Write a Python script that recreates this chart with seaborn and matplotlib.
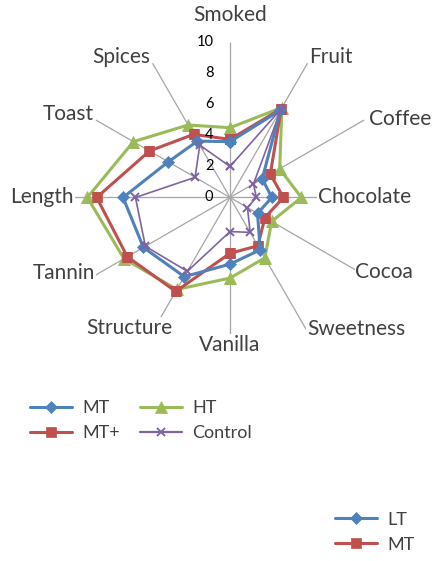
import numpy as np
import pandas as pd
import matplotlib
matplotlib.use("Agg")
import matplotlib.pyplot as plt
import seaborn as sns
from matplotlib.lines import Line2D

categories = ['Smoked', 'Fruit', 'Coffee', 'Chocolate', 'Cocoa', 'Sweetness',
              'Vanilla', 'Structure', 'Tannin', 'Length', 'Toast', 'Spices']
mt = [3.6, 6.5, 2.4, 2.7, 2.05, 3.9, 4.3, 5.9, 6.45, 6.9, 4.6, 4.2]
mt_plus = [3.75, 6.6, 3.0, 3.45, 2.6, 3.6, 3.6, 7.0, 7.65, 8.6, 6.0, 4.7]
ht = [4.5, 6.7, 3.7, 4.6, 3.1, 4.5, 5.2, 6.85, 7.9, 9.2, 7.2, 5.4]
control = [2.0, 6.6, 1.75, 1.7, 1.3, 2.6, 2.2, 5.5, 6.3, 6.1, 2.6, 3.9]
r_ticks = [0, 2, 4, 6, 8, 10]

sns.set_style("white")
plt.rcParams['font.family'] = ['Lato', 'DejaVu Sans']

# series styles: (label, values, colour, marker, markersize, linewidth)
series = [
    ('HT', ht, '#9BBB59', '^', 8, 2.2),
    ('MT+', mt_plus, '#C0504D', 's', 6.5, 2.2),
    ('MT', mt, '#4F81BD', 'D', 6, 2.2),
    ('Control', control, '#8064A2', 'x', 6, 1.2),
]

n = len(categories)
theta = np.arange(n) * 2 * np.pi / n

fig = plt.figure(figsize=(4.34, 5.61), dpi=100)
ax = fig.add_axes([0.1728, 0.3717, 0.7143, 0.5526], projection='polar')
ax.set_theta_zero_location('N')
ax.set_theta_direction(-1)

for name, vals, col, mk, ms, lw in series:
    df = pd.DataFrame({'theta': np.append(theta, 2 * np.pi),
                       'value': vals + [vals[0]]})
    sns.lineplot(data=df, x='theta', y='value', ax=ax, sort=False,
                 estimator=None, color=col, marker=mk, markersize=ms,
                 markeredgecolor=col, markeredgewidth=1.4 if mk == 'x' else 0.5,
                 linewidth=lw, zorder=3)

ax.set_ylim(0, 10)
ax.set_xlabel('')
ax.set_ylabel('')
ax.set_xticks(theta)
ax.set_xticklabels([])
ax.set_yticks(r_ticks)
ax.set_yticklabels([])
ax.yaxis.grid(False)
ax.xaxis.grid(True, color='#A6A6A6', linewidth=0.9)
ax.spines['polar'].set_visible(False)
ax.set_facecolor('none')

# radial value labels, left of the top spoke
for t in r_ticks:
    ax.annotate(str(t), xy=(0, t), xytext=(-12, 0), textcoords='offset points',
                ha='right', va='center', fontsize=10.5, color='black', zorder=5,
                annotation_clip=False)

# category labels (angle clockwise from top, radius, in data units)
label_pos = {
    'Smoked': (0, 11.8), 'Fruit': (35.7, 11.16), 'Coffee': (65.2, 12.08),
    'Chocolate': (90, 8.65), 'Cocoa': (115.8, 11.04), 'Sweetness': (136.2, 11.75),
    'Vanilla': (180, 9.52), 'Structure': (217.7, 10.65), 'Tannin': (245.5, 11.74),
    'Length': (270, 12.16), 'Toast': (297.3, 11.73), 'Spices': (322.2, 11.47),
}
for cat in categories:
    a, r = label_pos[cat]
    ax.text(np.deg2rad(a), r, cat, ha='center', va='center', fontsize=15,
            color='#404040', zorder=4, clip_on=False,
            bbox=dict(facecolor='white', edgecolor='none', pad=0.5))

def handle(col, mk, ms, lw, mew):
    return Line2D([0], [0], color=col, marker=mk, markersize=ms, linewidth=lw,
                  markeredgecolor=col, markeredgewidth=mew)

h_mt = handle('#4F81BD', 'D', 6, 2.2, 0.5)
h_mtp = handle('#C0504D', 's', 6.5, 2.2, 0.5)
h_ht = handle('#9BBB59', '^', 8, 2.2, 0.5)
h_ctl = handle('#8064A2', 'x', 6, 1.6, 1.4)

leg_kw = dict(frameon=False, fontsize=13, handlelength=2.33, handletextpad=0.55,
              labelspacing=0.5, borderpad=0, borderaxespad=0, labelcolor='#404040')
leg1 = fig.legend([h_mt, h_mtp, h_ht, h_ctl], ['MT', 'MT+', 'HT', 'Control'],
                  loc='upper left', bbox_to_anchor=(0.069, 0.287), ncol=2,
                  columnspacing=1.15, **leg_kw)
leg2 = fig.legend([h_mt, h_mtp], ['LT', 'MT'], loc='upper left',
                  bbox_to_anchor=(0.772, 0.088), **leg_kw)

fig.savefig('out.png', dpi=100)
